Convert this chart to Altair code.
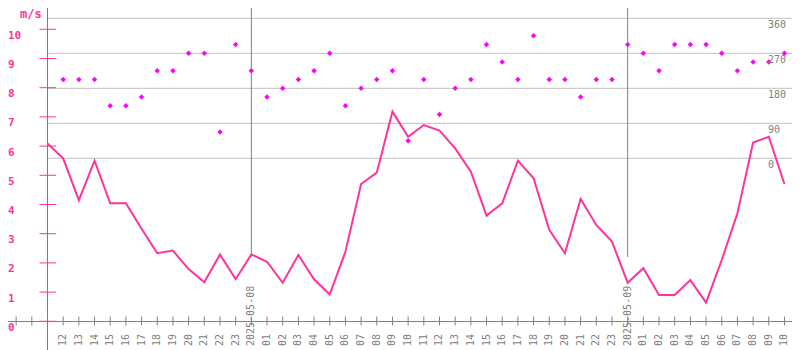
import altair as alt
import pandas as pd

# ---- data ----
hour_labels = ["12", "13", "14", "15", "16", "17", "18", "19", "20", "21", "22", "23",
               "2025-05-08", "01", "02", "03", "04", "05", "06", "07", "08", "09", "10", "11",
               "12", "13", "14", "15", "16", "17", "18", "19", "20", "21", "22", "23",
               "2025-05-09", "01", "02", "03", "04", "05", "06", "07", "08", "09", "10"]

# wind speed (m/s), hourly from 11:00 on 2025-05-07 to 10:00 on 2025-05-09
speed = [6.09, 5.58, 4.15, 5.50, 4.04, 4.04, 3.17, 2.33, 2.42, 1.79, 1.34, 2.29, 1.44,
         2.29, 2.04, 1.32, 2.27, 1.44, 0.92, 2.38, 4.70, 5.09, 7.18, 6.32, 6.72, 6.53,
         5.92, 5.12, 3.62, 4.04, 5.50, 4.90, 3.13, 2.33, 4.19, 3.30, 2.73,
         1.32, 1.82, 0.90, 0.90, 1.41, 0.64, 2.10, 3.70, 6.12, 6.32, 4.70]

# wind direction (degrees), hourly from 12:00 on 2025-05-07
direction = [202.5, 202.5, 202.5, 135, 135, 157.5, 225, 225, 270, 270, 67.5, 292.5,
             225, 157.5, 180, 202.5, 225, 270, 135, 180, 202.5, 225, 45, 202.5,
             112.5, 180, 202.5, 292.5, 247.5, 202.5, 315, 202.5, 202.5, 157.5, 202.5, 202.5,
             292.5, 270, 225, 292.5, 292.5, 292.5, 270, 225, 247.5, 247.5, 270]

speed_ticks = list(range(0, 11))
dir_ticks = [0, 90, 180, 270, 360]

# ---- tables ----
speed_df = pd.DataFrame({"t": list(range(len(speed))), "v": speed})
dir_df = pd.DataFrame({"t": list(range(1, len(direction) + 1)), "d": direction})
label_df = pd.DataFrame({"t": list(range(1, len(hour_labels) + 1)), "label": hour_labels})
day_df = label_df[label_df["label"].str.startswith("2025")]
tick_df = pd.DataFrame({"t": list(range(-2, len(speed)))})
vtick_df = pd.DataFrame({"v": speed_ticks, "lab": [str(s) for s in speed_ticks]})
dtick_df = pd.DataFrame({"d": dir_ticks, "lab": [str(d) for d in dir_ticks]})

W, H = 784, 342
PINK = "#ff3399"
MAG = "#ff00ff"
GRAY = "#808080"
GRID = "#c0c0c0"
MONO = "DejaVu Sans Mono"

xs = alt.Scale(domain=[-2.519, 47.481], nice=False, zero=False)
vs = alt.Scale(domain=[-0.983, 10.729], nice=False, zero=False)
ds = alt.Scale(domain=[-492.9, 386.5], nice=False, zero=False)

X = alt.X("t:Q", scale=xs, axis=None)
YV = alt.Y("v:Q", scale=vs, axis=None)
YD = alt.Y("d:Q", scale=ds, axis=None)

grid = alt.Chart(dtick_df).mark_rule(color=GRID, strokeWidth=1).encode(
    x=alt.value(39.5), x2=alt.value(W), y=YD)

grid_lab = alt.Chart(dtick_df).mark_text(
    align="left", baseline="middle", dy=7, font=MONO, fontSize=10, color=GRAY
).encode(x=alt.value(760), y=YD, text="lab:N")

day_lines = alt.Chart(day_df).mark_rule(color=GRAY, strokeWidth=1).encode(
    x=X, y=alt.value(0), y2=alt.value(249))

x_line = alt.Chart(tick_df).mark_rule(color=GRAY, strokeWidth=1).encode(
    x=alt.value(0), x2=alt.value(W), y=alt.value(313.5))

x_ticks = alt.Chart(tick_df).mark_rule(color=GRAY, strokeWidth=1).encode(
    x=X, y=alt.value(308.5), y2=alt.value(317.5))

x_labels = alt.Chart(label_df).mark_text(
    angle=270, align="left", baseline="middle", font=MONO, fontSize=10, color=GRAY
).encode(x=X, y=alt.value(338), text="label:N")

v_axis = alt.Chart(vtick_df).mark_rule(color=PINK, strokeWidth=1).encode(
    x=alt.value(39.5), y=alt.value(0), y2=alt.value(H))

v_ticks = alt.Chart(vtick_df).mark_rule(color=PINK, strokeWidth=1).encode(
    x=alt.value(31.5), x2=alt.value(48), y=YV)

v_labels = alt.Chart(vtick_df).mark_text(
    align="left", baseline="middle", dy=6.5, font=MONO, fontSize=11,
    fontWeight="bold", color=PINK
).encode(x=alt.value(0), y=YV, text="lab:N")

unit = alt.Chart(vtick_df.head(1)).mark_text(
    align="left", baseline="top", font=MONO, fontSize=12, fontWeight="bold",
    color=PINK, text="m/s"
).encode(x=alt.value(12), y=alt.value(1))

line = alt.Chart(speed_df).mark_line(color=PINK, strokeWidth=2).encode(x=X, y=YV)

dots = alt.Chart(dir_df).mark_point(
    shape="diamond", filled=True, size=30, color=MAG, opacity=1
).encode(x=X, y=YD)

chart = alt.layer(
    grid, day_lines, x_line, x_ticks, v_axis, v_ticks, line, dots,
    grid_lab, x_labels, v_labels, unit
).resolve_scale(y="independent").properties(
    width=W, height=H, padding=0,
    autosize=alt.AutoSizeParams(type="none"),
    background="white"
).configure_view(strokeWidth=0)

chart.save("out.html", embed_options={"renderer": "svg", "actions": False})
